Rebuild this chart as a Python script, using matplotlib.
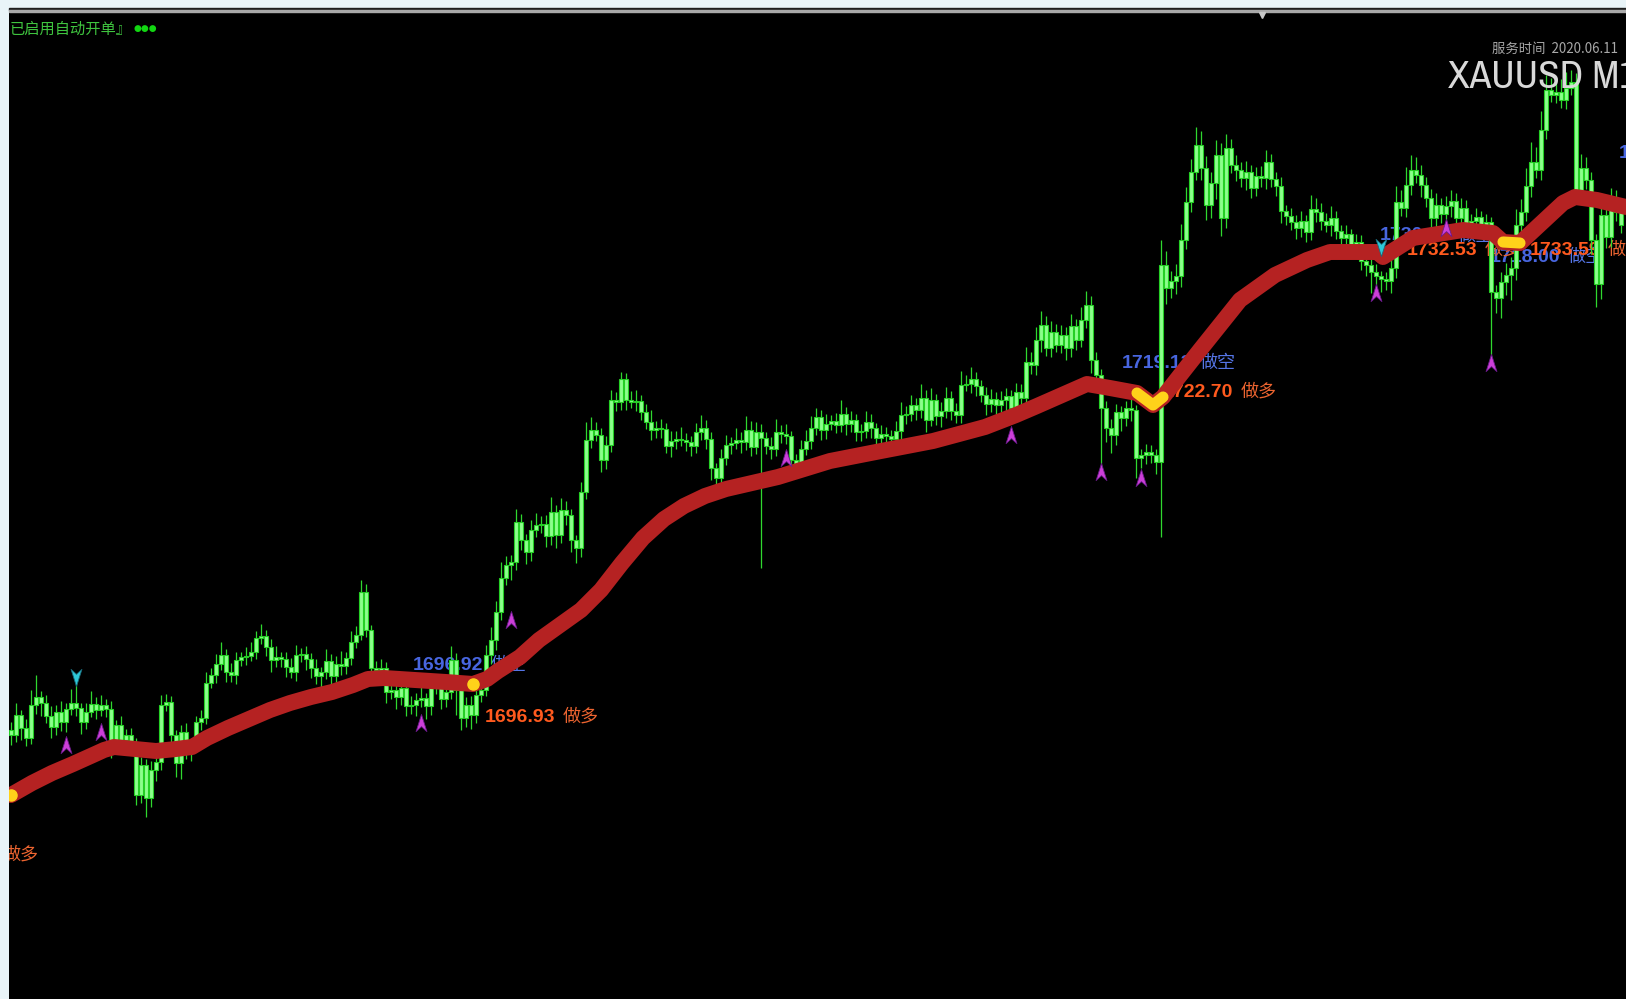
import numpy as np
import matplotlib
matplotlib.use("Agg")
import matplotlib.pyplot as plt
from matplotlib import font_manager
from matplotlib.path import Path
from matplotlib.patches import Rectangle
from matplotlib.lines import Line2D

plt.rcParams["font.family"] = ["Noto Sans CJK SC", "DejaVu Sans"]

# ---- M1 candles (price), open = previous close ----
first_open = 1691.0
closes = [
    1690.5, 1692.5, 1691.2, 1690.2, 1693.5, 1694.3, 1693.7, 1692.4, 1691.3, 1692.8,
    1691.8, 1693.1, 1693.7, 1693.2, 1691.8, 1692.8, 1693.6, 1693.0, 1693.5, 1693.1,
    1689.5, 1691.5, 1690.0, 1690.5, 1689.8, 1684.5, 1687.5, 1684.2, 1687.0, 1687.8,
    1693.5, 1693.8, 1690.5, 1687.7, 1690.8, 1689.0, 1689.5, 1691.8, 1692.2, 1695.7,
    1696.5, 1697.6, 1698.5, 1696.8, 1696.5, 1698.0, 1698.3, 1698.4, 1698.8, 1700.2,
    1700.4, 1699.3, 1698.0, 1698.3, 1698.1, 1697.3, 1696.8, 1698.5, 1698.6, 1698.1,
    1697.2, 1696.4, 1696.8, 1697.9, 1696.4, 1697.6, 1697.4, 1698.2, 1699.8, 1700.5,
    1704.8, 1701.0, 1697.2, 1697.0, 1697.2, 1694.8, 1695.0, 1694.3, 1695.2, 1693.4,
    1693.5, 1694.0, 1694.2, 1693.4, 1695.2, 1695.4, 1694.1, 1694.8, 1698.0, 1695.0,
    1692.2, 1693.5, 1692.5, 1694.5, 1695.0, 1698.5, 1700.0, 1702.8, 1706.2, 1707.5,
    1707.8, 1711.8, 1710.0, 1708.8, 1711.0, 1711.5, 1711.6, 1710.4, 1712.8, 1710.5,
    1713.0, 1712.5, 1710.0, 1709.2, 1714.8, 1720.0, 1721.0, 1720.5, 1718.0, 1719.5,
    1724.0, 1723.8, 1726.1, 1724.0, 1723.8, 1723.9, 1722.8, 1721.8, 1721.0, 1721.2,
    1721.1, 1719.4, 1719.9, 1720.1, 1720.0, 1719.8, 1719.4, 1720.8, 1721.2, 1720.1,
    1717.2, 1716.2, 1718.2, 1719.5, 1719.7, 1720.0, 1719.8, 1721.0, 1719.3, 1720.8,
    1720.2, 1719.4, 1719.1, 1720.8, 1720.6, 1720.4, 1718.0, 1717.5, 1719.1, 1719.9,
    1721.2, 1722.3, 1721.0, 1721.6, 1721.9, 1721.5, 1722.6, 1721.6, 1722.0, 1720.8,
    1720.9, 1721.8, 1721.2, 1720.2, 1720.6, 1720.4, 1720.1, 1720.9, 1722.5, 1722.6,
    1723.5, 1723.0, 1724.2, 1722.0, 1724.0, 1722.4, 1722.9, 1724.2, 1722.9, 1722.5,
    1725.5, 1725.6, 1726.1, 1725.4, 1724.5, 1723.6, 1724.1, 1723.5, 1724.0, 1724.4,
    1723.2, 1724.8, 1724.2, 1727.8, 1727.5, 1730.0, 1731.5, 1729.2, 1730.8, 1729.5,
    1730.5, 1729.2, 1731.4, 1730.0, 1732.0, 1733.5, 1728.0, 1726.5, 1723.2, 1721.2,
    1720.5, 1722.8, 1722.2, 1723.2, 1723.0, 1718.2, 1718.5, 1718.8, 1718.5, 1717.8,
    1737.5, 1735.2, 1735.9, 1736.4, 1740.0, 1743.8, 1746.8, 1749.5, 1747.2, 1743.5,
    1745.7, 1748.5, 1742.2, 1749.2, 1747.5, 1747.0, 1746.2, 1746.8, 1745.2, 1746.4,
    1746.2, 1747.8, 1746.1, 1745.4, 1742.9, 1742.4, 1741.8, 1741.2, 1741.9, 1740.8,
    1743.1, 1742.8, 1741.9, 1741.5, 1742.2, 1740.9, 1740.2, 1740.6, 1739.5, 1739.8,
    1737.9, 1737.5, 1736.8, 1736.4, 1736.1, 1735.9, 1737.2, 1743.8, 1743.2, 1745.5,
    1747.0, 1746.5, 1745.5, 1744.2, 1742.2, 1743.5, 1742.6, 1743.4, 1743.9, 1742.2,
    1743.2, 1741.5, 1741.9, 1742.3, 1741.4, 1741.8, 1734.8, 1734.2, 1735.8, 1736.5,
    1737.2, 1741.5, 1742.8, 1745.4, 1747.8, 1747.0, 1751.0, 1755.0, 1754.5, 1754.8,
    1754.0, 1755.2, 1755.8, 1745.0, 1747.2, 1746.0, 1740.0, 1735.6, 1742.5, 1740.3,
    1744.2, 1742.8, 1741.5,
]
wick_up = [
    0.8, 1.2, 0.5, 0.9, 1.5, 2.2, 0.6, 0.8, 1.0, 0.7,
    1.1, 0.6, 1.4, 2.6, 0.5, 0.9, 1.3, 0.7, 1.0, 0.6,
    0.8, 0.5, 0.9, 0.6, 0.7, 0.4, 0.8, 0.6, 0.9, 0.5,
    1.0, 0.8, 0.6, 0.5, 0.7, 0.9, 0.4, 0.6, 0.8, 1.1,
    0.7, 1.0, 1.3, 0.6, 0.9, 0.8, 0.5, 0.9, 1.0, 0.7,
    1.2, 0.6, 0.8, 1.1, 0.5, 0.7, 0.9, 1.0, 0.6, 0.8,
    0.6, 0.9, 0.5, 1.2, 0.7, 0.8, 1.3, 0.6, 1.1, 0.9,
    1.2, 0.8, 0.5, 0.7, 0.9, 0.6, 1.0, 0.5, 0.8, 0.6,
    0.9, 0.7, 1.1, 0.5, 0.8, 1.0, 0.6, 0.9, 1.4, 0.7,
    0.6, 0.8, 0.9, 1.2, 0.7, 1.0, 1.3, 1.1, 1.6, 0.9,
    0.7, 1.3, 0.8, 0.6, 1.0, 1.2, 0.8, 0.9, 1.5, 0.7,
    1.2, 0.9, 0.6, 0.5, 1.0, 1.8, 1.3, 0.8, 0.7, 0.9,
    1.0, 0.8, 0.7, 0.6, 0.9, 1.1, 0.6, 0.8, 1.2, 0.7,
    0.9, 0.6, 1.0, 0.8, 1.2, 0.7, 0.6, 0.9, 1.3, 0.8,
    0.7, 0.5, 0.9, 1.0, 0.6, 1.2, 0.8, 1.4, 0.9, 1.0,
    0.8, 0.6, 0.9, 1.3, 0.7, 1.0, 0.5, 0.6, 0.9, 1.1,
    1.2, 0.9, 0.7, 1.0, 0.6, 0.8, 1.4, 0.7, 0.9, 0.6,
    0.7, 1.1, 0.8, 0.5, 0.9, 0.7, 0.6, 1.0, 1.3, 0.8,
    1.0, 0.7, 1.4, 0.8, 1.2, 0.6, 0.9, 1.1, 0.7, 0.8,
    1.4, 0.9, 1.2, 0.7, 0.6, 0.8, 1.0, 0.7, 0.9, 0.8,
    0.6, 0.9, 0.8, 1.5, 1.0, 1.3, 1.4, 0.9, 1.1, 0.8,
    1.0, 0.8, 1.2, 0.7, 1.3, 1.4, 0.9, 0.8, 0.6, 0.7,
    0.9, 0.8, 0.6, 0.7, 0.9, 0.5, 0.6, 0.8, 0.7, 0.6,
    2.5, 1.4, 1.0, 1.2, 1.6, 1.5, 1.3, 1.8, 1.4, 1.2,
    1.1, 1.5, 1.2, 1.4, 0.9, 1.0, 0.8, 1.1, 0.7, 0.9,
    1.0, 1.2, 0.8, 0.7, 0.9, 0.6, 0.8, 0.7, 1.0, 0.6,
    1.4, 1.1, 0.9, 0.8, 1.2, 0.7, 0.6, 0.9, 0.5, 0.8,
    0.7, 0.9, 0.6, 0.8, 0.5, 0.7, 1.0, 1.6, 1.2, 1.8,
    1.5, 1.3, 1.0, 0.8, 0.9, 1.2, 0.7, 1.0, 1.1, 0.8,
    1.0, 0.8, 0.7, 0.9, 0.6, 0.8, 0.5, 0.7, 1.0, 1.2,
    1.1, 1.6, 1.3, 1.8, 2.0, 1.5, 1.9, 1.5, 1.2, 1.4,
    1.3, 1.6, 1.2, 0.9, 1.4, 1.1, 0.8, 0.6, 1.3, 0.9,
    1.0, 0.8, 0.7,
]
wick_dn = [
    1.0, 0.7, 1.2, 0.8, 0.6, 0.9, 1.3, 0.7, 1.1, 0.8,
    0.9, 1.0, 0.6, 0.8, 1.2, 0.7, 0.5, 0.9, 0.6, 0.8,
    1.3, 0.8, 1.0, 0.7, 0.9, 1.0, 0.8, 1.9, 0.9, 1.1,
    0.8, 0.6, 1.0, 1.4, 1.6, 0.9, 1.1, 0.7, 0.8, 0.6,
    0.5, 0.8, 0.6, 1.0, 0.7, 0.9, 0.6, 0.8, 0.5, 0.7,
    0.6, 0.9, 1.2, 0.7, 0.8, 1.0, 0.6, 0.9, 0.7, 1.1,
    1.0, 0.8, 1.2, 0.7, 1.1, 0.6, 0.9, 0.8, 0.7, 0.6,
    0.5, 0.7, 1.0, 0.8, 0.9, 1.1, 0.7, 1.2, 0.8, 1.0,
    0.8, 1.1, 0.7, 1.3, 0.9, 0.6, 1.0, 0.8, 0.7, 2.5,
    1.2, 0.9, 1.4, 0.8, 0.7, 0.6, 0.9, 1.0, 0.8, 0.7,
    1.5, 0.8, 1.0, 1.2, 0.9, 0.7, 0.8, 1.1, 0.9, 1.3,
    0.8, 1.0, 1.2, 1.5, 0.9, 0.7, 0.8, 0.6, 1.2, 0.9,
    0.7, 0.9, 0.8, 1.0, 0.6, 0.9, 0.8, 0.7, 1.0, 0.8,
    0.9, 0.7, 1.1, 0.8, 0.6, 0.9, 1.0, 0.7, 0.8, 1.0,
    1.2, 0.8, 1.0, 0.7, 0.9, 0.6, 1.1, 0.8, 0.9, 0.7,
    13.0, 0.8, 1.0, 0.7, 0.9, 0.8, 1.2, 1.0, 0.8, 0.6,
    0.8, 0.7, 1.0, 0.9, 0.6, 0.8, 0.7, 1.1, 0.8, 0.9,
    0.9, 0.7, 1.0, 0.8, 0.6, 0.9, 1.0, 0.7, 0.8, 0.9,
    0.7, 1.0, 0.8, 1.2, 0.6, 0.9, 1.1, 0.7, 0.9, 0.8,
    0.8, 0.6, 0.9, 1.0, 0.7, 1.1, 0.8, 0.9, 0.7, 1.2,
    1.0, 0.8, 1.1, 0.7, 0.9, 1.0, 1.2, 0.8, 0.9, 0.7,
    0.8, 1.2, 0.9, 1.0, 0.7, 0.8, 1.3, 1.5, 6.2, 1.4,
    1.8, 1.0, 1.3, 0.8, 1.1, 2.0, 1.0, 0.9, 0.8, 1.2,
    7.5, 1.6, 1.0, 1.3, 1.1, 0.9, 1.0, 0.8, 1.2, 1.5,
    1.3, 1.6, 1.8, 1.0, 0.8, 1.1, 0.9, 1.2, 1.0, 0.8,
    0.9, 1.1, 0.8, 1.0, 1.2, 0.9, 0.8, 1.1, 0.9, 1.0,
    0.8, 1.0, 0.9, 0.7, 1.1, 0.8, 1.0, 0.9, 0.8, 1.0,
    0.9, 1.1, 2.1, 1.0, 1.3, 0.9, 1.2, 1.0, 0.8, 0.9,
    1.0, 0.8, 1.2, 0.9, 1.4, 1.0, 0.9, 0.8, 1.1, 0.9,
    0.8, 1.0, 0.9, 0.7, 1.0, 0.9, 6.8, 1.5, 2.0, 1.3,
    2.5, 1.2, 1.0, 0.9, 1.1, 0.8, 1.0, 0.9, 0.7, 0.8,
    0.8, 0.9, 0.7, 1.0, 1.2, 0.9, 1.4, 2.3, 1.5, 1.1,
    1.0, 0.9, 0.8,
]

# ---- moving average (thick red) ----
ma_x = [0, 4.2, 8.2, 12.4, 16.4, 18.6, 20.6, 24.8, 29, 33, 36.2, 39.2, 43.4, 47.6,
        51.8, 55.8, 60, 64.2, 68.4, 71.4, 74.6, 80.8, 87, 92.4, 95.2, 97.4, 101.8,
        105.6, 109.8, 114, 118, 122.2, 126.4, 130.6, 134.6, 138.8, 143, 153.4, 163.8,
        174, 184.4, 194.8, 201, 205.2, 215.2, 219.8, 225.2, 228.4, 230.4, 237.8, 245.8,
        252.8, 259.2, 263.8, 273.2, 274.4, 280.4, 290.4, 296.4, 298.4, 301.8, 310.4,
        312.8, 317.2, 323]
ma_y = [1684.5, 1685.7, 1686.7, 1687.6, 1688.5, 1689.0, 1689.3, 1689.1, 1688.9, 1689.1,
        1689.3, 1690.2, 1691.2, 1692.1, 1693.0, 1693.7, 1694.3, 1694.8, 1695.5, 1696.1,
        1696.2, 1696.0, 1695.8, 1695.6, 1696.1, 1696.9, 1698.3, 1700.0, 1701.5, 1703.0,
        1705.0, 1707.7, 1710.2, 1712.1, 1713.4, 1714.4, 1715.1, 1716.3, 1717.9, 1718.9,
        1719.9, 1721.3, 1722.5, 1723.4, 1725.6, 1725.2, 1724.7, 1723.5, 1724.3, 1729.0,
        1734.0, 1736.5, 1738.0, 1738.8, 1738.8, 1738.3, 1740.2, 1741.0, 1740.7, 1739.8,
        1739.7, 1743.7, 1744.3, 1744.0, 1743.3]
yellow_spans = [(225.2, 230.4), (298.4, 301.8)]
dot_x = [0, 92.4]
dot_y = [1684.5, 1695.6]

# ---- arrows ----
buy_x = [11, 18, 82, 100, 155, 200, 218, 226, 273, 287, 296]
buy_y = [1689.5, 1690.8, 1691.7, 1702.0, 1718.2, 1720.5, 1716.8, 1716.2, 1734.7, 1741.2, 1727.7]
sell_x = [13, 274]
sell_y = [1696.3, 1739.3]

# ---- order labels ----
short_x = [80.4, 222.2, 273.8, 295.8, 321.6]
short_y = [1697.5, 1727.7, 1740.4, 1738.3, 1748.7]
short_txt = ["1696.92", "1719.13", "1730.36", "1718.00", "1745.20"]
long_x = [-17.2, 94.8, 230.4, 279.2, 303.8]
long_y = [1678.5, 1692.3, 1724.8, 1739.0, 1739.0]
long_txt = ["1684.50", "1696.93", "1722.70", "1732.53", "1733.59"]

W, H = 1626, 999
fig = plt.figure(figsize=(W / 100, H / 100), dpi=100, facecolor="#e9f4f8")
ax = fig.add_axes([9 / W, 0, 1617 / W, 987 / H])
ax.set_facecolor("black")
for s in ax.spines.values():
    s.set_visible(False)
ax.set_xticks([])
ax.set_yticks([])
ax.set_xlim(-0.4, 323.0)
ax.set_ylim(1664.1, 1762.8)

closes_a = np.array(closes)
opens_a = np.concatenate([[first_open], closes_a[:-1]])
idx = np.arange(len(closes_a))
top = np.maximum(opens_a, closes_a)
bot = np.minimum(opens_a, closes_a)
highs = top + np.array(wick_up)
lows = bot - np.array(wick_dn)

ax.vlines(idx, lows, highs, color="#2fd82f", linewidth=0.9, zorder=3)
ax.bar(idx, np.maximum(top - bot, 0.12), bottom=bot, width=0.62,
       color="#8cff8c", edgecolor="#25cf25", linewidth=0.8, zorder=3)

ax.plot(ma_x, ma_y, color="#b52222", linewidth=11.5, solid_capstyle="round",
        solid_joinstyle="round", zorder=4)
for a, b in yellow_spans:
    xs = [x for x in ma_x if a <= x <= b]
    ys = [y for x, y in zip(ma_x, ma_y) if a <= x <= b]
    ax.plot(xs, ys, color="#ffd21a", linewidth=8, solid_capstyle="round",
            solid_joinstyle="round", zorder=5)
ax.plot(dot_x, dot_y, "o", color="#ffd21a", markersize=8, zorder=5)

up_arrow = Path([(0, 1), (0.6, -0.9), (0, -0.35), (-0.6, -0.9), (0, 1)],
                [Path.MOVETO, Path.LINETO, Path.LINETO, Path.LINETO, Path.CLOSEPOLY])
dn_arrow = Path([(0, -1), (0.6, 0.9), (0, 0.35), (-0.6, 0.9), (0, -1)],
                [Path.MOVETO, Path.LINETO, Path.LINETO, Path.LINETO, Path.CLOSEPOLY])
ax.plot(buy_x, buy_y, linestyle="none", marker=up_arrow, markersize=13,
        markerfacecolor="#cc3fd8", markeredgecolor="#6a1a8a", markeredgewidth=0.6, zorder=6)
ax.plot(sell_x, sell_y, linestyle="none", marker=dn_arrow, markersize=13,
        markerfacecolor="#2ec8d8", markeredgecolor="#1a6a7a", markeredgewidth=0.6, zorder=6)

for x, y, t in zip(short_x, short_y, short_txt):
    ax.text(x, y, t, color="#4866e0", fontsize=14, fontweight="bold",
            family="Liberation Sans", va="center", ha="left", clip_on=True, zorder=2)
    ax.text(x + 15.6, y, "做空", color="#5575e6", fontsize=13,
            va="center", ha="left", clip_on=True, zorder=2)
for x, y, t in zip(long_x, long_y, long_txt):
    ax.text(x, y, t, color="#ff5a1e", fontsize=14, fontweight="bold",
            family="Liberation Sans", va="center", ha="left", clip_on=True, zorder=2)
    ax.text(x + 15.6, y, "做多", color="#ec6430", fontsize=13,
            va="center", ha="left", clip_on=True, zorder=2)

# window chrome at the top
fig.add_artist(Rectangle((9 / W, 989 / H), 1617 / W, 2 / H, transform=fig.transFigure,
                         color="#1e1e1e", zorder=10))
fig.add_artist(Rectangle((9 / W, 987 / H), 1617 / W, 2 / H, transform=fig.transFigure,
                         color="#a9a9a9", zorder=10))
fig.add_artist(Line2D([1262 / W], [1 - 15 / H], marker="v", color="#c8c8c8",
                      markersize=5, transform=fig.transFigure, zorder=10))

fig.text(10 / W, 1 - 29 / H, "已启用自动开单』", color="#3fc43f", fontsize=11,
         va="center", ha="left")
fig.text(134 / W, 1 - 29 / H, "●●●", color="#12d612", fontsize=6.5,
         va="center", ha="left", family="DejaVu Sans")
fig.text(1492 / W, 1 - 49 / H, "服务时间  2020.06.11", color="#a8a8a8", fontsize=9.6,
         va="center", ha="left")


# a narrow, non-bold face for the symbol caption, if one is installed
def pick_narrow():
    faces = [f for f in font_manager.fontManager.ttflist
             if f.style == "normal" and f.weight in (300, 400, "normal", "regular", "light")]
    for key in ("Narrow", "Condensed"):
        for f in faces:
            if key in f.name or key.lower() in str(f.stretch):
                return f
    return None


narrow = pick_narrow()
if narrow is not None:
    fig.text(1448 / W, 1 - 77 / H, "XAUUSD M1", color="#d9d9d9", va="center", ha="left",
             fontproperties=font_manager.FontProperties(fname=narrow.fname, size=28.5))
else:
    fig.text(1448 / W, 1 - 77 / H, "XAUUSD M1", color="#d9d9d9", fontsize=26,
             va="center", ha="left", family="Roboto", fontweight="light")

fig.savefig("out.png", dpi=100, facecolor=fig.get_facecolor())
